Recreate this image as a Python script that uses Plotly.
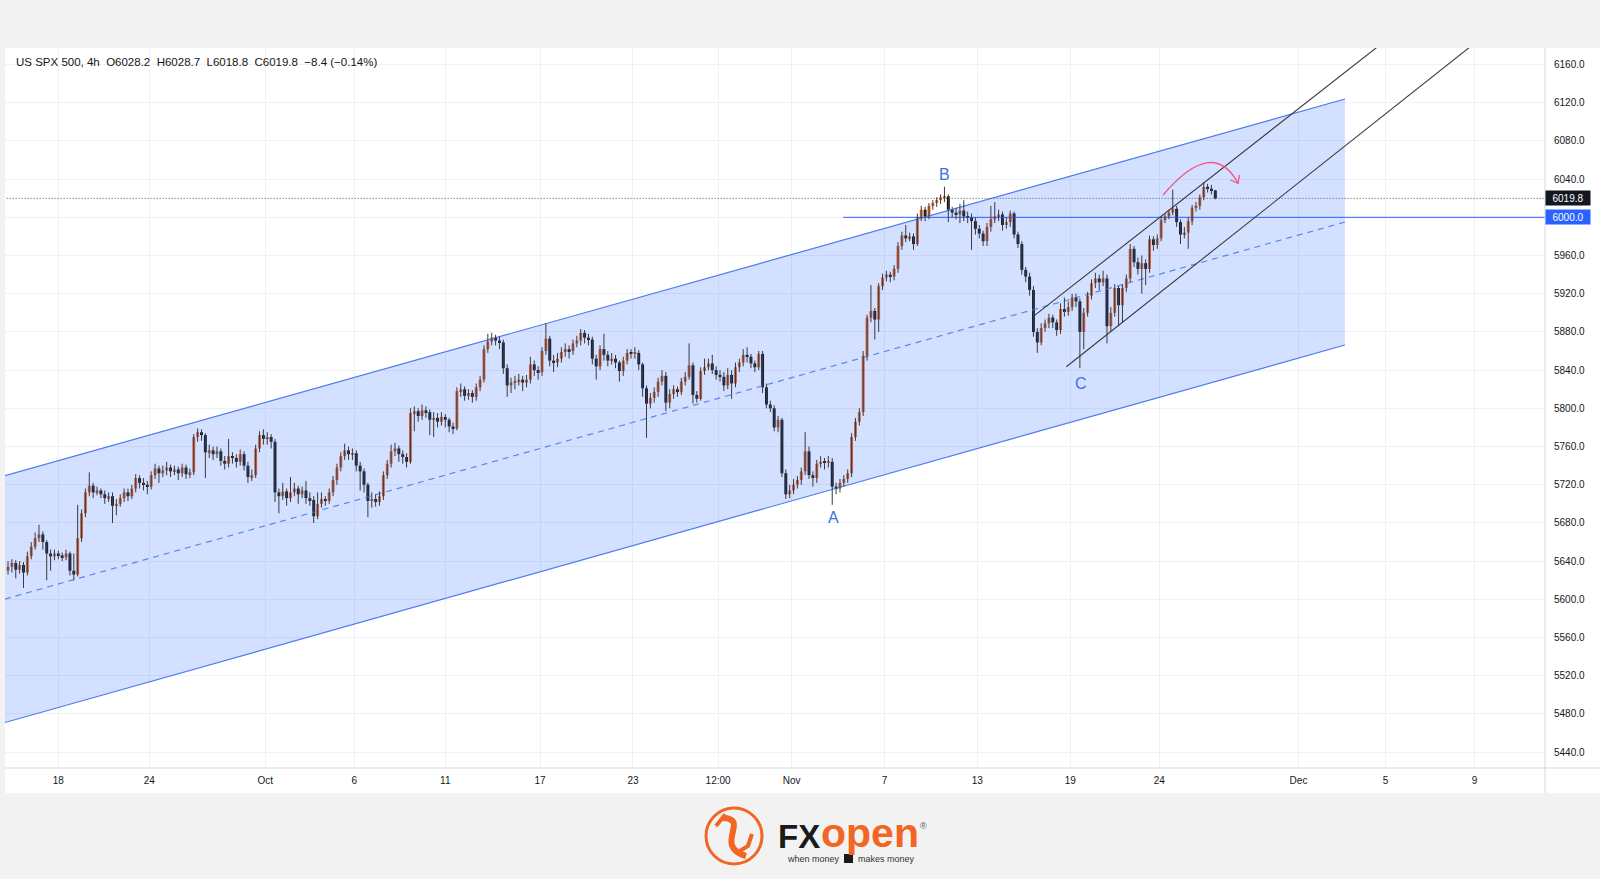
import plotly.graph_objects as go

# ---------------- data (4h candles, bar index 0..312) ----------------
first_open = 5630.0
closes = [
    5634, 5638, 5631, 5636, 5628, 5645, 5655, 5664, 5668, 5660,
    5648, 5645, 5648, 5646, 5644, 5648, 5630, 5626, 5664, 5690,
    5712, 5719, 5712, 5714, 5710, 5706, 5708, 5698, 5700, 5706,
    5712, 5708, 5716, 5727, 5722, 5720, 5718, 5730, 5737, 5732,
    5735, 5738, 5734, 5736, 5732, 5738, 5731, 5733, 5770, 5775,
    5772, 5754, 5756, 5752, 5755, 5745, 5742, 5750, 5748, 5744,
    5752, 5740, 5728, 5730, 5758, 5772, 5768, 5770, 5765, 5712,
    5708, 5713, 5706, 5712, 5716, 5710, 5714, 5706, 5704, 5687,
    5700, 5705, 5703, 5712, 5725, 5738, 5750, 5756, 5752, 5753,
    5740, 5734, 5720, 5703, 5705, 5702, 5708, 5730, 5742, 5755,
    5758, 5752, 5749, 5744, 5795, 5797, 5792, 5798, 5796, 5788,
    5790, 5786, 5791, 5788, 5781, 5779, 5818, 5820, 5813, 5816,
    5812, 5822, 5830, 5862, 5870, 5874, 5871, 5869, 5842, 5824,
    5827, 5828, 5830, 5827, 5830, 5846, 5840, 5838, 5860, 5873,
    5850, 5848, 5852, 5859, 5862, 5860, 5868, 5871, 5879, 5874,
    5872, 5852, 5844, 5862, 5856, 5850, 5852, 5848, 5839, 5850,
    5858, 5857, 5858, 5846, 5821, 5805, 5811, 5817, 5828, 5834,
    5806, 5815, 5820, 5817, 5828, 5833, 5845, 5814, 5810, 5839,
    5843, 5847, 5840, 5835, 5833, 5824, 5835, 5826, 5843, 5848,
    5856, 5854, 5847, 5843, 5857, 5822, 5804, 5800, 5780, 5788,
    5732, 5710, 5714, 5720, 5725, 5734, 5755, 5730, 5727, 5742,
    5744, 5743, 5744, 5718, 5716, 5722, 5726, 5732, 5770, 5786,
    5796, 5855, 5895, 5902, 5893, 5928, 5937, 5940, 5938, 5946,
    5970, 5981, 5978, 5980, 5972, 6000, 6008, 6001, 6012, 6015,
    6018, 6021, 6022, 6008, 6005, 6003, 6007, 6001, 6000, 5996,
    5988, 5983, 5975, 5990, 5998, 6001, 6003, 5992, 5995, 6004,
    5982, 5972, 5945, 5938, 5924, 5880, 5869, 5884, 5889, 5895,
    5890, 5882, 5904, 5901, 5906, 5916, 5912, 5880, 5900, 5918,
    5931, 5936, 5932, 5936, 5886, 5900, 5926, 5908, 5926, 5936,
    5967, 5953, 5946, 5952, 5946, 5977, 5971, 5978, 5997, 6001,
    6005, 6009, 5995, 5982, 5984, 5996, 6010, 6012, 6021, 6032,
    6030, 6028.2, 6019.8,
]
highs = [
    5640, 5642, 5641, 5640, 5639, 5650, 5660, 5670, 5678, 5671,
    5662, 5652, 5652, 5651, 5649, 5652, 5650, 5648, 5699, 5694,
    5716, 5733, 5722, 5718, 5716, 5714, 5712, 5712, 5705, 5710,
    5716, 5716, 5720, 5731, 5730, 5727, 5724, 5734, 5742, 5740,
    5740, 5744, 5741, 5740, 5739, 5742, 5741, 5737, 5773, 5779,
    5778, 5774, 5762, 5760, 5760, 5758, 5750, 5768, 5754, 5752,
    5757, 5755, 5744, 5736, 5762, 5776, 5778, 5775, 5773, 5768,
    5716, 5722, 5716, 5728, 5722, 5719, 5718, 5724, 5712, 5708,
    5712, 5712, 5708, 5716, 5729, 5742, 5754, 5763, 5760, 5758,
    5756, 5744, 5737, 5722, 5712, 5710, 5713, 5734, 5746, 5762,
    5764, 5761, 5756, 5753, 5800, 5802, 5800, 5804, 5802, 5799,
    5796, 5795, 5796, 5794, 5790, 5785, 5822, 5826, 5823, 5820,
    5819, 5826, 5834, 5866, 5878, 5879, 5877, 5875, 5872, 5846,
    5832, 5834, 5836, 5834, 5835, 5854, 5850, 5844, 5864, 5889,
    5876, 5856, 5858, 5864, 5868, 5866, 5872, 5876, 5883, 5882,
    5878, 5875, 5856, 5866, 5878, 5860, 5858, 5856, 5850, 5854,
    5862, 5862, 5864, 5861, 5848, 5824, 5816, 5822, 5832, 5840,
    5838, 5820, 5824, 5823, 5832, 5838, 5868, 5848, 5818, 5843,
    5852, 5852, 5856, 5844, 5840, 5838, 5842, 5840, 5848, 5852,
    5862, 5864, 5857, 5850, 5860, 5860, 5826, 5808, 5803, 5792,
    5790, 5736, 5720, 5726, 5729, 5738, 5775, 5760, 5734, 5746,
    5750, 5748, 5750, 5748, 5722, 5726, 5730, 5736, 5774, 5790,
    5800, 5860, 5898, 5929, 5905, 5931, 5941, 5944, 5943, 5950,
    5974, 5985, 5992, 5984, 5983, 6004, 6012, 6011, 6015, 6018,
    6021, 6024, 6032, 6024, 6011, 6010, 6014, 6018, 6006, 6004,
    6000, 5992, 5986, 5994, 6012, 6016, 6008, 6006, 6000, 6007,
    6006, 5985, 5975, 5948, 5942, 5928, 5884, 5889, 5893, 5899,
    5898, 5893, 5910, 5916, 5912, 5920, 5920, 5915, 5905, 5922,
    5935, 5942, 5940, 5944, 5940, 5906, 5930, 5928, 5930, 5940,
    5972, 5970, 5958, 5960, 5956, 5981, 5980, 5982, 6001, 6004,
    6008, 6029, 6012, 5998, 5990, 6000, 6013, 6016, 6024, 6037,
    6035, 6034, 6028.7,
]
lows = [
    5626, 5628, 5622, 5627, 5612, 5625, 5642, 5652, 5660, 5652,
    5620, 5630, 5641, 5642, 5640, 5641, 5625, 5620, 5624, 5660,
    5686, 5708, 5706, 5709, 5706, 5700, 5702, 5680, 5688, 5697,
    5702, 5703, 5705, 5712, 5716, 5714, 5710, 5715, 5726, 5722,
    5728, 5730, 5728, 5730, 5725, 5728, 5726, 5727, 5730, 5765,
    5766, 5727, 5748, 5746, 5748, 5740, 5736, 5738, 5742, 5738,
    5740, 5735, 5722, 5724, 5727, 5754, 5762, 5762, 5758, 5702,
    5690, 5704, 5698, 5702, 5708, 5700, 5706, 5700, 5698, 5680,
    5684, 5696, 5698, 5700, 5708, 5720, 5734, 5746, 5746, 5746,
    5734, 5714, 5712, 5686, 5696, 5697, 5698, 5704, 5726, 5738,
    5750, 5744, 5742, 5738, 5742, 5776, 5786, 5788, 5790, 5772,
    5770, 5780, 5782, 5780, 5775, 5773, 5777, 5812, 5808, 5809,
    5806, 5808, 5818, 5827, 5858, 5866, 5866, 5862, 5836, 5812,
    5816, 5820, 5824, 5818, 5822, 5826, 5834, 5830, 5834, 5856,
    5844, 5838, 5843, 5848, 5854, 5852, 5856, 5864, 5866, 5868,
    5866, 5846, 5830, 5840, 5850, 5844, 5846, 5842, 5828, 5834,
    5846, 5852, 5852, 5840, 5812, 5769, 5800, 5806, 5812, 5824,
    5797, 5800, 5810, 5812, 5814, 5824, 5830, 5805, 5806, 5808,
    5835, 5840, 5836, 5830, 5828, 5818, 5820, 5810, 5822, 5838,
    5844, 5848, 5842, 5838, 5840, 5816, 5800, 5796, 5776, 5775,
    5728, 5705, 5706, 5710, 5716, 5720, 5730, 5726, 5718, 5722,
    5738, 5736, 5738, 5699, 5710, 5712, 5718, 5722, 5728, 5766,
    5782, 5792, 5850, 5890, 5872, 5880, 5924, 5933, 5932, 5934,
    5942, 5966, 5974, 5975, 5966, 5970, 5996, 5996, 5998, 6008,
    6011, 6014, 6016, 5995, 6000, 5998, 5994, 5996, 5994, 5966,
    5982, 5978, 5970, 5970, 5985, 5994, 5996, 5986, 5988, 5990,
    5978, 5968, 5940, 5932, 5918, 5875, 5858, 5866, 5880, 5884,
    5884, 5876, 5878, 5896, 5897, 5902, 5906, 5842, 5862, 5896,
    5914, 5926, 5924, 5928, 5868, 5880, 5896, 5886, 5890, 5922,
    5932, 5948, 5940, 5920, 5929, 5942, 5965, 5967, 5975, 5994,
    5998, 6002, 5990, 5972, 5978, 5967, 5992, 6006, 6008, 6018,
    6026, 6024, 6018.8,
]

# x-axis labels (bar index where each label sits)
tick_bars = [13, 36.5, 66.5, 89.5, 113, 137.5, 161.5, 183.5, 202.5,
             226.5, 250.5, 274.5, 297.5, 333.5, 356, 379]
tick_text = ["18", "24", "Oct", "6", "11", "17", "23", "12:00", "Nov",
             "7", "13", "19", "24", "Dec", "5", "9"]
price_ticks = [5440, 5480, 5520, 5560, 5600, 5640, 5680, 5720, 5760, 5800,
               5840, 5880, 5920, 5960, 6000, 6040, 6080, 6120, 6160]

# drawings (bar index, price)
channel_x = [-0.8, 345.5]
channel_upper = [5729.5, 6123.9]
channel_lower = [5471.0, 5866.3]
channel_mid = [5600.3, 5995.1]
trend_up_x, trend_up_y = [264.9, 360.0], [5896.0, 6197.8]
trend_lo_x, trend_lo_y = [273.5, 380.4], [5843.5, 6186.7]
level_price, level_start = 6000.0, 215.8
wave_text = ["A", "B", "C"]
wave_x = [213.4, 242.1, 277.4]
wave_y = [5686.0, 6045.0, 5826.0]
arc_x = [298.5, 311.3, 317.9]   # start, control, end
arc_y = [6023.4, 6084.7, 6035.6]
head_x = [318.2, 317.9, 315.9]
head_y = [6044.1, 6035.6, 6039.1]
title_text = "US SPX 500, 4h\u00a0\u00a0O6028.2\u00a0\u00a0H6028.7\u00a0\u00a0L6018.8\u00a0\u00a0C6019.8\u00a0\u00a0\u22128.4 (\u22120.14%)"

# ---------------- derived ----------------
n = min(len(closes), len(highs), len(lows))
opens = [first_open] + closes[:n - 1]
idx = list(range(n))
last_close = closes[n - 1]

W, H = 1600, 879
L, R, T, B = 5, 1545, 48, 768   # plot area in pixels
X0, X1 = -0.78, 397.2
Y0, Y1 = 5423.4, 6177.3


def px(xp):
    return (xp - L) / (R - L)


def py(yp):
    return (B - yp) / (B - T)


UP = "#ee6a22"
DN = "#111111"
BLUE = "#2962ff"
ORANGE = "#f26522"

fig = go.Figure()

# channel fill + lines
fig.add_trace(go.Scatter(
    x=[channel_x[0], channel_x[1], channel_x[1], channel_x[0], channel_x[0]],
    y=[channel_upper[0], channel_upper[1], channel_lower[1], channel_lower[0], channel_upper[0]],
    fill="toself", fillcolor="rgba(41,98,255,0.2)", line=dict(width=0),
    mode="lines", hoverinfo="skip", showlegend=False))
fig.add_trace(go.Scatter(x=channel_x, y=channel_upper, mode="lines",
                         line=dict(color="#4a7bee", width=1.2), showlegend=False))
fig.add_trace(go.Scatter(x=channel_x, y=channel_lower, mode="lines",
                         line=dict(color="#4a7bee", width=1.2), showlegend=False))
fig.add_trace(go.Scatter(x=channel_x, y=channel_mid, mode="lines",
                         line=dict(color="#5a86ee", width=1.2, dash="6px,5px"), showlegend=False))

# horizontal levels
fig.add_trace(go.Scatter(x=[level_start, X1 + 5], y=[level_price, level_price], mode="lines",
                         line=dict(color=BLUE, width=1), showlegend=False))
fig.add_trace(go.Scatter(x=[X0 - 5, X1 + 5], y=[last_close, last_close], mode="lines",
                         line=dict(color="#555555", width=1, dash="1px,2px"), showlegend=False))

# wicks
wx, wy = [], []
for i in idx:
    wx += [i, i, None]
    wy += [lows[i], highs[i], None]
fig.add_trace(go.Scatter(x=wx, y=wy, mode="lines", line=dict(color="#3a3a3a", width=1),
                         hoverinfo="skip", showlegend=False))

# bodies
for up, col in ((True, UP), (False, DN)):
    xs, hs, bs = [], [], []
    for i in idx:
        if (closes[i] >= opens[i]) == up:
            lo_, hi_ = min(opens[i], closes[i]), max(opens[i], closes[i])
            xs.append(i)
            bs.append(lo_)
            hs.append(max(hi_ - lo_, 1.0))
    fig.add_trace(go.Bar(x=xs, y=hs, base=bs, width=0.76,
                         marker=dict(color=col, line=dict(width=0)),
                         showlegend=False, hoverinfo="skip"))

# black trend lines
fig.add_trace(go.Scatter(x=trend_up_x, y=trend_up_y, mode="lines",
                         line=dict(color="#3a3a3a", width=1.1), showlegend=False))
fig.add_trace(go.Scatter(x=trend_lo_x, y=trend_lo_y, mode="lines",
                         line=dict(color="#3a3a3a", width=1.1), showlegend=False))

# pink arc head
fig.add_trace(go.Scatter(x=head_x, y=head_y, mode="lines",
                         line=dict(color="#ee5a7e", width=1.3), showlegend=False))

shapes = [
    # white panel
    dict(type="rect", xref="paper", yref="paper", x0=0, x1=px(1600), y0=py(793), y1=1,
         fillcolor="white", line=dict(width=0), layer="below"),
    # separators
    dict(type="line", xref="paper", yref="paper", x0=1, x1=1, y0=py(793), y1=1,
         line=dict(color="#d6d9e0", width=1)),
    dict(type="line", xref="paper", yref="paper", x0=0, x1=px(1600), y0=0, y1=0,
         line=dict(color="#d6d9e0", width=1)),
    # arc
    dict(type="path", xref="x", yref="y",
         path=f"M {arc_x[0]},{arc_y[0]} Q {arc_x[1]},{arc_y[1]} {arc_x[2]},{arc_y[2]}",
         line=dict(color="#ee5a7e", width=1.3)),
    # logo ring
    dict(type="circle", xref="paper", yref="paper", x0=px(706), x1=px(762), y0=py(864), y1=py(808),
         line=dict(color=ORANGE, width=3)),
    # logo inner swirl
    dict(type="path", xref="paper", yref="paper",
         path=(f"M {px(722)},{py(818)} C {px(752)},{py(818)} {px(712)},{py(846)} {px(746)},{py(856)}"),
         line=dict(color=ORANGE, width=6)),
    dict(type="path", xref="paper", yref="paper",
         path=(f"M {px(716)},{py(826)} L {px(724)},{py(816)} L {px(732)},{py(822)}"),
         line=dict(color=ORANGE, width=4)),
    dict(type="path", xref="paper", yref="paper",
         path=(f"M {px(738)},{py(852)} L {px(748)},{py(846)} L {px(752)},{py(834)}"),
         line=dict(color=ORANGE, width=4)),
    # tagline block
    dict(type="rect", xref="paper", yref="paper", x0=px(844), x1=px(853), y0=py(863), y1=py(854),
         fillcolor="#1a1a1a", line=dict(width=0)),
]

annotations = [
    dict(xref="paper", yref="paper", x=px(14), y=py(62), xanchor="left", yanchor="middle",
         text=title_text, showarrow=False, font=dict(family="Liberation Sans", size=11.5, color="#131722")),
    dict(xref="paper", yref="y", x=1, y=last_close, xanchor="left", yanchor="middle",
         text=f"{last_close:.1f}", showarrow=False, bgcolor="#131722", width=42, height=12,
         font=dict(family="Liberation Sans", size=10, color="white")),
    dict(xref="paper", yref="y", x=1, y=level_price, xanchor="left", yanchor="middle",
         text=f"{level_price:.1f}", showarrow=False, bgcolor=BLUE, width=42, height=12,
         font=dict(family="Liberation Sans", size=10, color="white")),
    # logo text
    dict(xref="paper", yref="paper", x=px(776), y=py(836), xanchor="left", yanchor="middle",
         text="<b>FX</b>", showarrow=False,
         font=dict(family="Liberation Sans", size=33, color="#1a1a1a")),
    dict(xref="paper", yref="paper", x=px(819), y=py(833), xanchor="left", yanchor="middle",
         text="<b>open</b>", showarrow=False,
         font=dict(family="Liberation Sans", size=41, color=ORANGE)),
    dict(xref="paper", yref="paper", x=px(924), y=py(826), xanchor="center", yanchor="middle",
         text="\u00ae", showarrow=False, font=dict(family="Liberation Sans", size=9, color="#555")),
    dict(xref="paper", yref="paper", x=px(842), y=py(859), xanchor="right", yanchor="middle",
         text="when money", showarrow=False, font=dict(family="Liberation Sans", size=9, color="#333")),
    dict(xref="paper", yref="paper", x=px(856), y=py(859), xanchor="left", yanchor="middle",
         text="makes money", showarrow=False, font=dict(family="Liberation Sans", size=9, color="#333")),
]
for t, xw, yw in zip(wave_text, wave_x, wave_y):
    annotations.append(dict(x=xw, y=yw, xref="x", yref="y", text=t, showarrow=False,
                            font=dict(family="Liberation Sans", size=16, color="#3b6fe6")))

fig.update_layout(
    width=W, height=H, autosize=False,
    margin=dict(l=L, r=W - R, t=T, b=H - B, pad=0),
    paper_bgcolor="#f2f2f2", plot_bgcolor="white",
    barmode="overlay", showlegend=False,
    shapes=shapes, annotations=annotations,
    xaxis=dict(range=[X0, X1], tickvals=tick_bars, ticktext=tick_text, ticks="",
               showgrid=True, gridcolor="#eef1f6", gridwidth=1, zeroline=False,
               showline=False, tickfont=dict(family="Liberation Sans", size=10, color="#131722"),
               ticklabelstandoff=5, fixedrange=True),
    yaxis=dict(range=[Y0, Y1], side="right", tickvals=price_ticks,
               ticktext=[f"{v:.1f}" for v in price_ticks], ticks="",
               showgrid=True, gridcolor="#eef1f6", gridwidth=1, zeroline=False,
               showline=False, tickfont=dict(family="Liberation Sans", size=10, color="#131722"),
               ticklabelstandoff=8, fixedrange=True),
)

fig.write_html("out.html", config={"displayModeBar": False},
               post_script="document.body.style.margin='0px';document.body.style.overflow='hidden';")
